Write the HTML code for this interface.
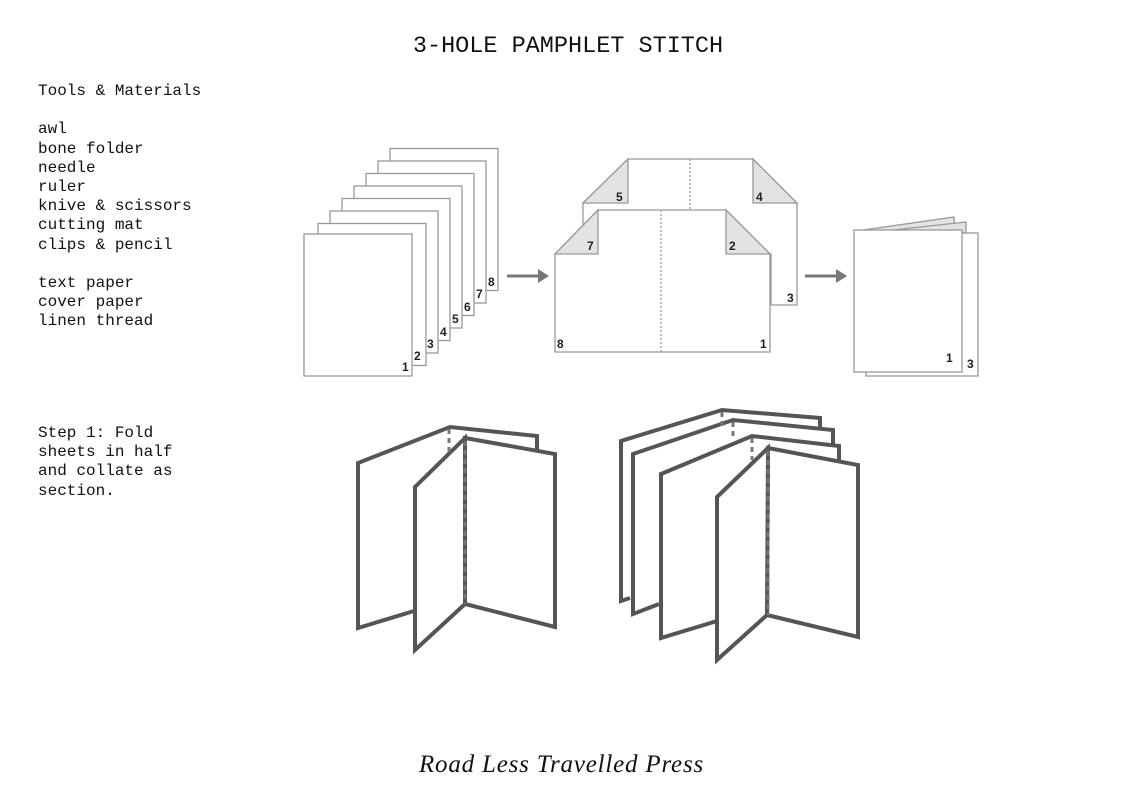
<!DOCTYPE html>
<html><head><meta charset="utf-8"><style>
body{margin:0;background:#fff;width:1123px;height:794px;overflow:hidden;position:relative;font-family:"Liberation Mono",monospace;color:#111}
.t{position:absolute;white-space:pre;font-size:16px;line-height:19.2px}
</style></head><body>
<div class="t" style="left:0;width:1136px;text-align:center;top:33px;font-size:23.5px;line-height:28px">3-HOLE PAMPHLET STITCH</div>
<div class="t" style="left:38px;top:82px">Tools &amp; Materials

awl
bone folder
needle
ruler
knive &amp; scissors
cutting mat
clips &amp; pencil

text paper
cover paper
linen thread</div>
<div class="t" style="left:38px;top:424px">Step 1: Fold
sheets in half
and collate as
section.</div>
<div class="t" style="left:0;width:1123px;text-align:center;top:750px;font-family:'Liberation Serif',serif;font-style:italic;font-size:25px;letter-spacing:0.8px;line-height:30px">Road Less Travelled Press</div>
<svg width="1123" height="794" style="position:absolute;left:0;top:0" font-family="Liberation Sans, sans-serif" font-size="12" font-weight="bold" fill="#222">
<g stroke="#999" stroke-width="1.3" fill="#fff">
<rect x="390" y="148.5" width="108" height="142"/>
<rect x="378" y="161" width="108" height="142"/>
<rect x="366" y="173.5" width="108" height="142"/>
<rect x="354" y="186" width="108" height="142"/>
<rect x="342" y="198.5" width="108" height="142"/>
<rect x="330" y="211" width="108" height="142"/>
<rect x="318" y="223.5" width="108" height="142"/>
<rect x="304" y="234" width="108" height="142"/>
</g>
<g fill="#222" stroke="none">
<text x="488" y="286">8</text><text x="476" y="298">7</text><text x="464" y="311">6</text><text x="452" y="323">5</text><text x="440" y="336">4</text><text x="427" y="348">3</text><text x="414" y="360">2</text><text x="402" y="371">1</text>
</g>
<g stroke="#777" stroke-width="3" fill="#777">
<line x1="507" y1="276" x2="540" y2="276"/><polygon points="538,269 549,276 538,283" stroke="none"/>
<line x1="805" y1="276" x2="838" y2="276"/><polygon points="836,269 847,276 836,283" stroke="none"/>
</g>
<g stroke="#999" stroke-width="1.3">
<polygon points="628,159 753,159 797,203 797,305 771,305 771,254 583,254 583,203" fill="#fff"/>
<polygon points="628,159 628,203 583,203" fill="#e3e3e3"/>
<polygon points="753,159 753,203 797,203" fill="#e3e3e3"/>
<line x1="690" y1="159" x2="690" y2="210" stroke-dasharray="2,2"/>
<polygon points="598,210 726,210 770,254 770,352 555,352 555,254" fill="#fff"/>
<polygon points="598,210 598,254 555,254" fill="#e3e3e3"/>
<polygon points="726,210 726,254 770,254" fill="#e3e3e3"/>
<line x1="661" y1="210" x2="661" y2="352" stroke-dasharray="2,2"/>
</g>
<g fill="#222"><text x="616" y="201">5</text><text x="756" y="201">4</text><text x="587" y="250">7</text><text x="729" y="250">2</text><text x="787" y="302">3</text><text x="557" y="348">8</text><text x="760" y="348">1</text></g>
<g stroke="#999" stroke-width="1.3">
<polygon points="856,231 954,217 955,231" fill="#e3e3e3"/>
<polygon points="866,233 966,222 966,233" fill="#e3e3e3"/>
<rect x="866" y="233" width="112" height="143" fill="#fff"/>
<rect x="854" y="230" width="108" height="142" fill="#fff"/>
</g>
<g fill="#222"><text x="946" y="362">1</text><text x="967" y="368">3</text></g>
<g stroke="#555" stroke-width="4" fill="#fff" stroke-linejoin="miter">
<polyline points="414,611 358,628 358,463 450,427 537,436 537,452"/>
<polygon points="465,438 555,454 555,627 465,604"/>
<polygon points="465,438 415,487 415,650 465,604"/>
</g>
<g stroke="#777" stroke-width="3" stroke-dasharray="5,4">
<line x1="449" y1="429" x2="449" y2="452"/>
<line x1="465" y1="441" x2="465" y2="604"/>
</g>
<g stroke="#555" stroke-width="4" fill="#fff">
<polyline points="630,598 621,601 621,441 722,410 820,418 820,428"/>
<polyline points="659,604 633,614 633,454 733,420 833,430 833,444"/>
<polyline points="717,621 661,638 661,474 752,436 839,446 839,460"/>
<polygon points="768,448 858,465 858,637 767,615"/>
<polygon points="768,448 717,497 717,660 767,615"/>
</g>
<g stroke="#777" stroke-width="3" stroke-dasharray="5,4">
<line x1="722" y1="412" x2="722" y2="428"/>
<line x1="733" y1="422" x2="733" y2="440"/>
<line x1="752" y1="438" x2="752" y2="460"/>
<line x1="768" y1="451" x2="768" y2="615"/>
</g>
</svg>
</body></html>
